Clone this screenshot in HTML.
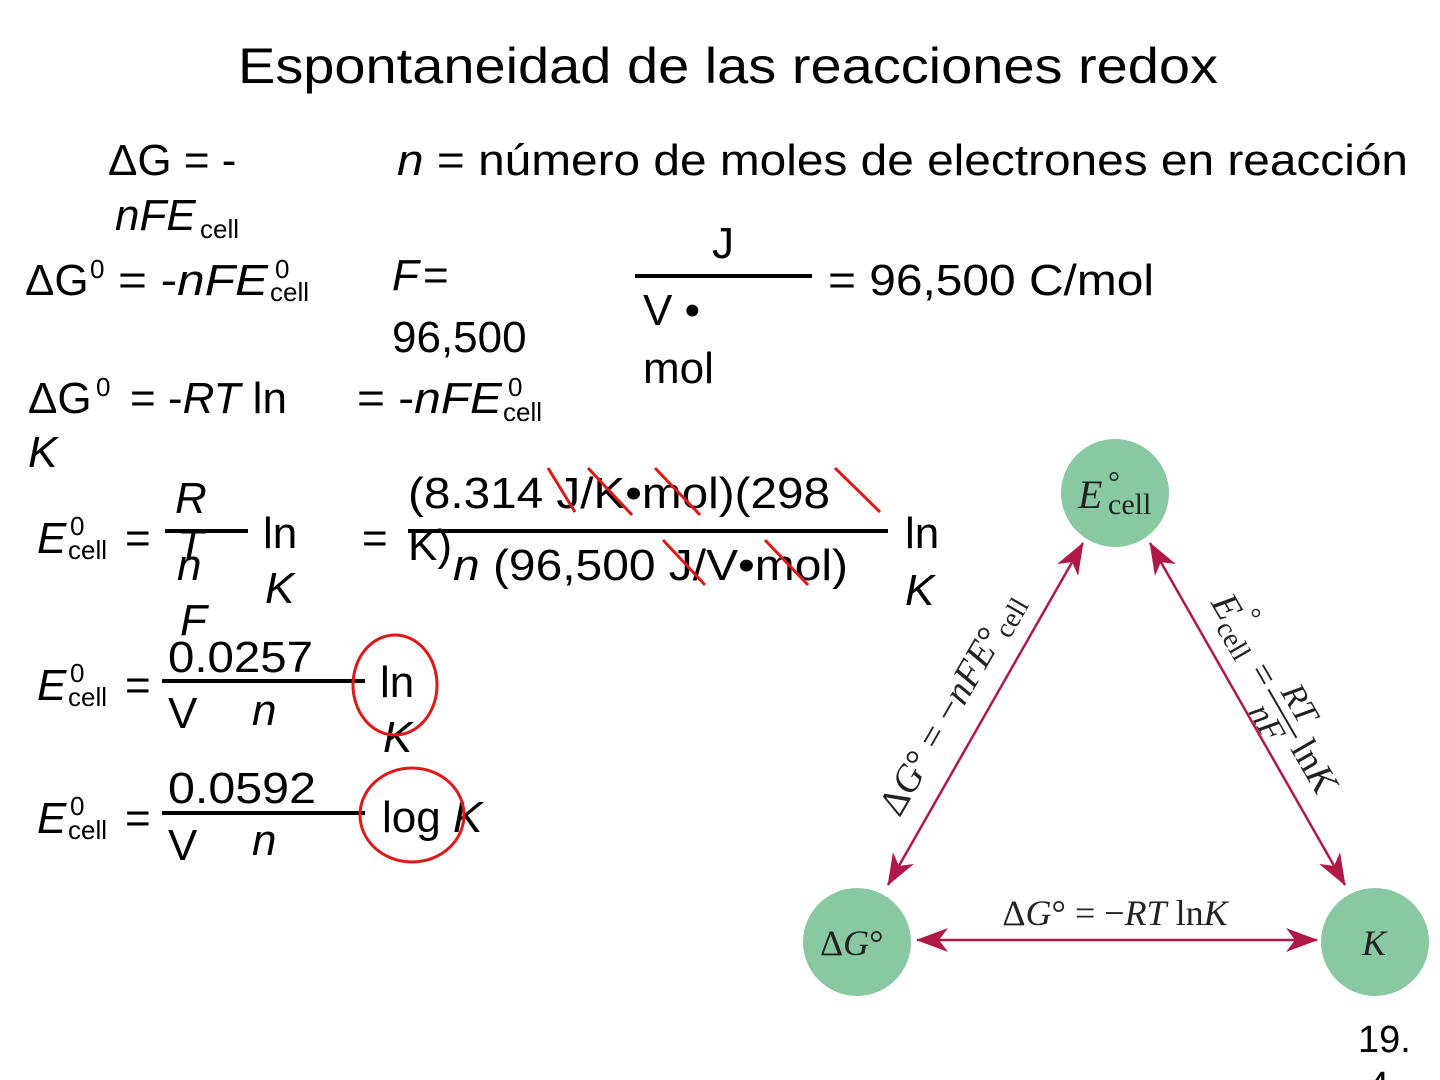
<!DOCTYPE html>
<html><head><meta charset="utf-8"><style>
html,body{margin:0;padding:0;background:#fff;width:1440px;height:1080px;overflow:hidden}
svg{display:block}
.s{font-family:"Liberation Sans",sans-serif;fill:#000}
.i{font-style:italic}
.r{font-family:"Liberation Serif",serif;fill:#222}
</style></head><body>
<svg width="1440" height="1080" xmlns="http://www.w3.org/2000/svg">
<defs>
<marker id="ah" viewBox="0 0 32 24" refX="31" refY="12" markerWidth="32" markerHeight="24" markerUnits="userSpaceOnUse" orient="auto-start-reverse">
<path d="M0,0 L32,12 L0,24 L9,12 Z" fill="#b01848"/></marker>
</defs>
<text class="s" x="238" y="83" font-size="50" textLength="980" lengthAdjust="spacingAndGlyphs">Espontaneidad de las reacciones redox</text>

<g class="s" font-size="44">
<text x="108" y="175">ΔG = -</text>
<text x="115" y="230" class="s i">nFE</text><text x="200" y="238" font-size="26">cell</text>
<text x="397" y="175" textLength="1011" lengthAdjust="spacingAndGlyphs"><tspan class="i">n</tspan> = número de moles de electrones en reacción</text>

<text x="25" y="295">ΔG</text><text x="90" y="278" font-size="26">0</text>
<text x="118" y="295" textLength="150" lengthAdjust="spacingAndGlyphs">= -<tspan class="i">nFE</tspan></text><text x="275" y="278" font-size="26">0</text><text x="270" y="301" font-size="26">cell</text>

<text x="392" y="290" class="s i">F</text><text x="423" y="290">=</text>
<text x="392" y="352">96,500</text>
<text x="712" y="258">J</text>
<text x="643" y="325">V •</text>
<text x="643" y="383">mol</text>
<text x="828" y="295" textLength="326" lengthAdjust="spacingAndGlyphs">= 96,500 C/mol</text>

<text x="28" y="413">ΔG</text><text x="96" y="396" font-size="26">0</text>
<text x="130" y="413">= -<tspan class="i">RT</tspan> ln</text>
<text x="28" y="467" class="s i">K</text>
<text x="357" y="413" textLength="145" lengthAdjust="spacingAndGlyphs">= -<tspan class="i">nFE</tspan></text><text x="508" y="396" font-size="26">0</text><text x="503" y="421" font-size="26">cell</text>

<text x="37" y="553" class="s i">E</text><text x="70" y="535" font-size="26">0</text><text x="68" y="559" font-size="26">cell</text>
<text x="125" y="553">=</text>
<text x="175" y="513" class="s i">R</text>
<text x="177" y="560" class="s i">T</text>
<text x="177" y="580" class="s i">n</text>
<text x="180" y="635" class="s i">F</text>
<text x="263" y="548">ln</text>
<text x="265" y="603" class="s i">K</text>
<text x="362" y="553">=</text>
<text x="408" y="508" textLength="422" lengthAdjust="spacingAndGlyphs">(8.314 J/K•mol)(298</text>
<text x="408" y="560">K)</text>
<text x="453" y="580" textLength="395" lengthAdjust="spacingAndGlyphs"><tspan class="i">n</tspan> (96,500 J/V•mol)</text>
<text x="905" y="548">ln</text>
<text x="905" y="605" class="s i">K</text>

<text x="37" y="700" class="s i">E</text><text x="70" y="682" font-size="26">0</text><text x="68" y="706" font-size="26">cell</text>
<text x="125" y="700">=</text>
<text x="168" y="672" textLength="145" lengthAdjust="spacingAndGlyphs">0.0257</text>
<text x="168" y="728">V</text>
<text x="252" y="725" class="s i">n</text>
<text x="380" y="697">ln</text>
<text x="383" y="752" class="s i">K</text>

<text x="37" y="833" class="s i">E</text><text x="70" y="815" font-size="26">0</text><text x="68" y="839" font-size="26">cell</text>
<text x="125" y="833">=</text>
<text x="168" y="803" textLength="148" lengthAdjust="spacingAndGlyphs">0.0592</text>
<text x="168" y="860">V</text>
<text x="252" y="855" class="s i">n</text>
<text x="382" y="832">log<tspan class="i"> K</tspan></text>

<text x="1358" y="1052" font-size="38">19.</text>
<text x="1368" y="1098" font-size="38">4</text>
</g>

<g stroke="#000" stroke-width="4">
<line x1="635" y1="276" x2="812" y2="276"/>
<line x1="165" y1="531" x2="248" y2="531"/>
<line x1="408" y1="531" x2="888" y2="531"/>
<line x1="162" y1="681" x2="365" y2="681"/>
<line x1="162" y1="813" x2="365" y2="813"/>
</g>
<g stroke="#e01818" stroke-width="3" fill="none">
<line x1="548" y1="468" x2="575" y2="512"/>
<line x1="588" y1="468" x2="632" y2="515"/>
<line x1="655" y1="468" x2="700" y2="515"/>
<line x1="835" y1="468" x2="880" y2="512"/>
<line x1="663" y1="540" x2="705" y2="585"/>
<line x1="765" y1="540" x2="808" y2="585"/>
<ellipse cx="395" cy="685" rx="42" ry="50"/>
<ellipse cx="412" cy="815" rx="52" ry="47"/>
</g>

<circle cx="1115" cy="493" r="54" fill="#88c9a1"/>
<circle cx="857" cy="942" r="54" fill="#88c9a1"/>
<circle cx="1375" cy="942" r="54" fill="#88c9a1"/>
<g stroke="#b01848" stroke-width="2.5" fill="none">
<line x1="888" y1="885" x2="1083" y2="543" marker-start="url(#ah)" marker-end="url(#ah)"/>
<line x1="1150" y1="543" x2="1345" y2="885" marker-start="url(#ah)" marker-end="url(#ah)"/>
<line x1="917" y1="940" x2="1317" y2="940" marker-start="url(#ah)" marker-end="url(#ah)"/>
</g>
<g class="r">
<text x="1078" y="508" font-size="40" font-style="italic">E</text><text x="1108" y="492" font-size="30">°</text><text x="1108" y="514" font-size="30">cell</text>
<text x="820" y="955" font-size="36">Δ<tspan font-style="italic">G</tspan>°</text>
<text x="1362" y="955" font-size="36" font-style="italic">K</text>
<text x="1115" y="925" font-size="36" text-anchor="middle">Δ<tspan font-style="italic">G</tspan>° = −<tspan font-style="italic">RT</tspan> ln<tspan font-style="italic">K</tspan></text>
<text transform="translate(962,710) rotate(-60)" font-size="38" text-anchor="middle">Δ<tspan font-style="italic">G</tspan>° = −<tspan font-style="italic">nFE</tspan>°<tspan font-size="28" dy="6">cell</tspan></text>
<g transform="translate(1278,700) rotate(60)">
<text x="-118" y="10" font-size="38" font-style="italic">E</text><text x="-92" y="-10" font-size="28">°</text><text x="-94" y="18" font-size="28">cell</text>
<text x="-40" y="12" font-size="38">=</text>
<text x="14" y="-6" font-size="34" font-style="italic" text-anchor="middle">RT</text>
<line x1="-14" y1="3" x2="42" y2="3" stroke="#222" stroke-width="2"/>
<text x="14" y="32" font-size="34" font-style="italic" text-anchor="middle">nF</text>
<text x="48" y="14" font-size="38">ln<tspan font-style="italic">K</tspan></text>
</g>
</g>
</svg>
</body></html>
